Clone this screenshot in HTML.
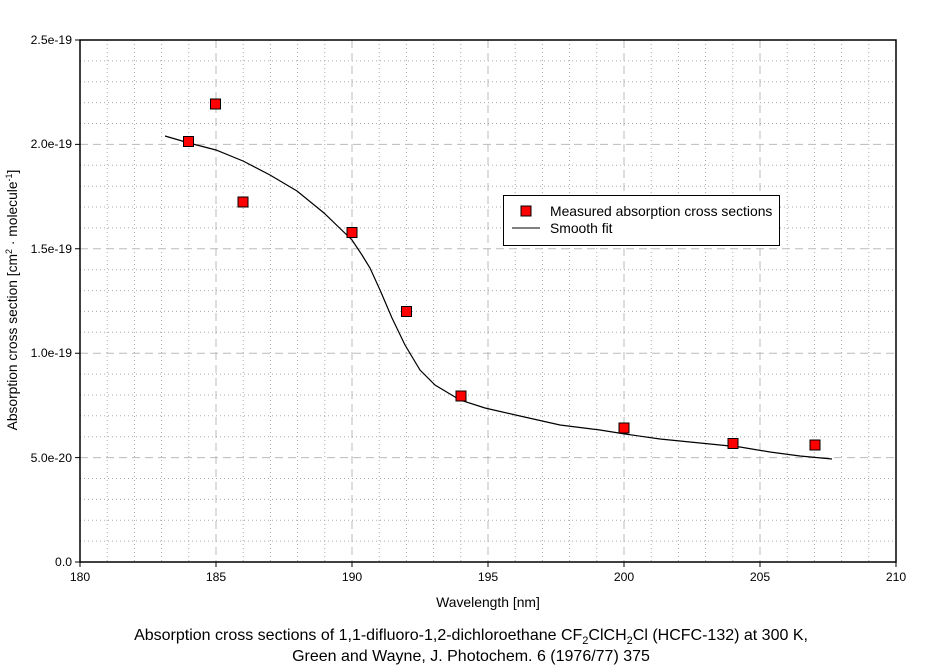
<!DOCTYPE html>
<html><head><style>body{margin:0;background:#fff}svg{display:block;font-family:"Liberation Sans",sans-serif}</style></head><body>
<svg width="936" height="668" xmlns="http://www.w3.org/2000/svg">
<g stroke="#aaa" stroke-width="1" fill="none">
<path stroke-dasharray="1,3" d="
M107.2,40V562M134.4,40V562M161.6,40V562M188.8,40V562M243.2,40V562M270.4,40V562M297.6,40V562M324.8,40V562M379.2,40V562M406.4,40V562M433.6,40V562M460.8,40V562M515.2,40V562M542.4,40V562M569.6,40V562M596.8,40V562M651.2,40V562M678.4,40V562M705.6,40V562M732.8,40V562M787.2,40V562M814.4,40V562M841.6,40V562M868.8,40V562
M80,60.9H896M80,81.8H896M80,102.6H896M80,123.5H896M80,165.3H896M80,186.2H896M80,207H896M80,227.9H896M80,269.7H896M80,290.6H896M80,311.4H896M80,332.3H896M80,374.1H896M80,395H896M80,415.8H896M80,436.7H896M80,478.5H896M80,499.4H896M80,520.2H896M80,541.1H896"/>
<path stroke="#bbb" stroke-dasharray="8,5" d="M216,40V562M352,40V562M488,40V562M624,40V562M760,40V562M80,144.4H896M80,248.8H896M80,353.2H896M80,457.6H896"/>
</g>
<rect x="80" y="40" width="816" height="522" fill="none" stroke="#000" stroke-width="1.5"/>
<g stroke="#000"><path d="M216,562v5M352,562v5M488,562v5M624,562v5M760,562v5M896,562v5M80,562v5M75,40h5M75,144.4h5M75,248.8h5M75,353.2h5M75,457.6h5M75,562h5"/></g>
<g font-size="12.2" fill="#000" text-anchor="end">
<text x="72" y="44">2.5e-19</text><text x="72" y="148">2.0e-19</text><text x="72" y="253">1.5e-19</text><text x="72" y="357">1.0e-19</text><text x="72" y="462">5.0e-20</text><text x="72" y="566">0.0</text></g>
<g font-size="12.2" text-anchor="middle"><text x="80" y="581">180</text><text x="216" y="581">185</text><text x="352" y="581">190</text><text x="488" y="581">195</text><text x="624" y="581">200</text><text x="760" y="581">205</text><text x="896" y="581">210</text>
<text x="488" y="607" font-size="13.9">Wavelength [nm]</text>
<text x="471" y="640" font-size="16">Absorption cross sections of 1,1-difluoro-1,2-dichloroethane CF<tspan font-size="11" dy="4">2</tspan><tspan dy="-4">ClCH</tspan><tspan font-size="11" dy="4">2</tspan><tspan dy="-4">Cl (HCFC-132) at 300 K,</tspan></text>
<text x="471" y="661" font-size="16">Green and Wayne, J. Photochem. 6 (1976/77) 375</text></g>
<text transform="translate(17,300) rotate(-90)" font-size="13.8" text-anchor="middle">Absorption cross section [cm<tspan font-size="9" dy="-5">2</tspan><tspan dy="5"> · molecule</tspan><tspan font-size="9" dy="-5">-1</tspan><tspan dy="5">]</tspan></text>
<polyline fill="none" stroke="#000" stroke-width="1.2" points="165,136 189,143 216,150 243,161 270,175 297,191 324,213 352,240 362,255 370,268 380,290 392,318 405,345 420,370 435,385 460,400 485,408 520,416 560,425 600,430 625,434 660,439 700,443 740,447 770,452 800,456 832,459"/>
<g fill="#f00" stroke="#000" stroke-width="1">
<rect x="183.5" y="136.5" width="10" height="10"/><rect x="210.5" y="99" width="10" height="10"/><rect x="238" y="197" width="10" height="10"/><rect x="347" y="227.5" width="10" height="10"/><rect x="401.5" y="306.5" width="10" height="10"/><rect x="456" y="391" width="10" height="10"/><rect x="619" y="423" width="10" height="10"/><rect x="728" y="438.5" width="10" height="10"/><rect x="810" y="440" width="10" height="10"/></g>
<rect x="503.5" y="195.5" width="276" height="50" fill="#fff" stroke="#000"/>
<rect x="521" y="206" width="10" height="10" fill="#f00" stroke="#000"/>
<line x1="512" y1="228" x2="540" y2="228" stroke="#000"/>
<text x="550" y="216" font-size="13.9">Measured absorption cross sections</text>
<text x="550" y="233" font-size="13.9">Smooth fit</text>
</svg></body></html>
